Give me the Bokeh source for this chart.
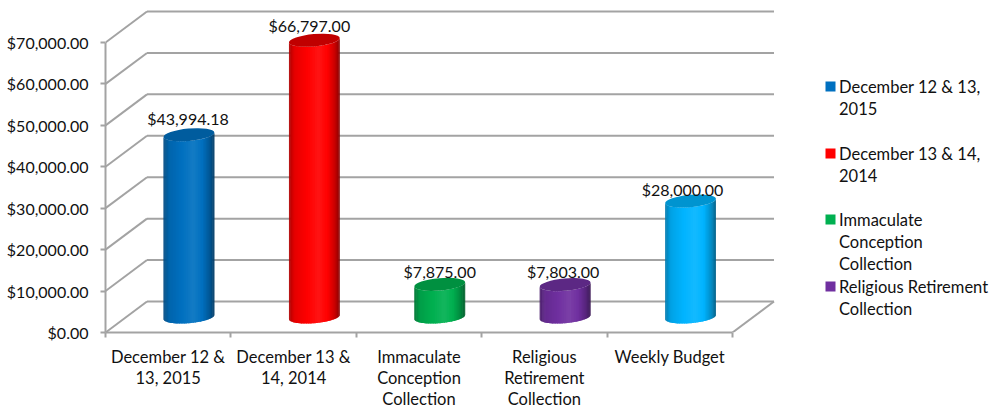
import numpy as np
from bokeh.plotting import figure
from bokeh.models import FixedTicker, Range1d, NumeralTickFormatter
from bokeh.core.properties import value
from bokeh.embed import file_html
from bokeh.resources import INLINE

categories = ["December 12 & 13, 2015", "December 13 & 14, 2014", "Immaculate Conception Collection",
              "Religious Retirement Collection", "Weekly Budget"]
values = [43994.18, 66797.00, 7875.00, 7803.00, 28000.00]
tick_labels = ["December 12 &\n13, 2015", "December 13 &\n14, 2014", "Immaculate\nConception\nCollection",
               "Religious\nRetirement\nCollection", "Weekly Budget"]
legend_lines = [["December 12 & 13,", "2015"], ["December 13 & 14,", "2014"],
                ["Immaculate", "Conception", "Collection"], ["Religious Retirement", "Collection"]]
y_ticks = [0, 10000, 20000, 30000, 40000, 50000, 60000, 70000]
base_colors = ["#0070C0", "#FF0000", "#00B050", "#7030A0", "#00B4FF"]
top_colors = ["#005C9E", "#C00000", "#009040", "#5C2884", "#0094D0"]
legend_colors = ["#0070C0", "#FF0000", "#00B050", "#7030A0"]

FONT = "Lato"
FS = "16px"
FS_TXT = "16.5px"
W, H = 990, 408
LEFT, BOTTOM = 105, 332
PX_X = 125.4          # pixels per category
PX_Y = 290 / 70000    # pixels per dollar
fx = lambda px: (px - LEFT) / PX_X
fy = lambda py: (BOTTOM - py) / PX_Y
dX, dY = 41.5 / PX_X, 31 / PX_Y   # depth of the floor

p = figure(width=W, height=H, frame_width=W - LEFT, frame_height=BOTTOM,
           min_border_left=LEFT, min_border_right=0, min_border_top=0, min_border_bottom=H - BOTTOM,
           x_range=Range1d(0, (W - LEFT) / PX_X), y_range=Range1d(0, BOTTOM / PX_Y),
           output_backend="svg", toolbar_location=None, x_axis_type="linear", y_axis_type="linear")
p.grid.visible = False
p.outline_line_color = None
p.background_fill_color = "white"
GRID = "#A3A3A3"

# walls
n = len(categories)
p.segment([dX] * len(y_ticks), [v + dY for v in y_ticks], [n + dX] * len(y_ticks), [v + dY for v in y_ticks],
          line_color=GRID, line_width=2)
p.segment([0] * len(y_ticks), y_ticks, [dX] * len(y_ticks), [v + dY for v in y_ticks],
          line_color=GRID, line_width=2)
p.segment([n], [0], [n + dX], [dY], line_color=GRID, line_width=2)

# axes
xa = p.xaxis[0]
xa.ticker = FixedTicker(ticks=[i + 0.5 for i in range(n)], minor_ticks=list(range(n + 1)))
xa.major_label_overrides = {i + 0.5: t for i, t in enumerate(tick_labels)}
xa.major_tick_line_color = None
xa.major_tick_out = 0
xa.major_tick_in = 0
xa.minor_tick_out = 5
xa.minor_tick_in = 0
xa.minor_tick_line_color = GRID
xa.minor_tick_line_width = 2
xa.axis_line_color = GRID
xa.axis_line_width = 2
xa.bounds = (0, n)
xa.major_label_standoff = 9
xa.major_label_text_font = FONT
xa.major_label_text_font_size = FS_TXT
xa.major_label_text_color = "#111111"
xa.major_label_text_line_height = 1.07

ya = p.yaxis[0]
ya.ticker = FixedTicker(ticks=y_ticks)
ya.formatter = NumeralTickFormatter(format="$0,0.00")
ya.minor_tick_line_color = None
ya.major_tick_out = 5
ya.major_tick_in = 0
ya.major_tick_line_color = GRID
ya.major_tick_line_width = 2
ya.axis_line_color = GRID
ya.axis_line_width = 2
ya.bounds = (0, 70000)
ya.major_label_standoff = 12
ya.major_label_text_font = FONT
ya.major_label_text_font_size = FS
ya.major_label_text_color = "#111111"

# cylinders
A, B = 25.5, 6.2
PHI = np.radians(5)
STOPS_T = [-1.0, -0.8, -0.3, 0.15, 0.5, 0.8, 1.0]
STOPS_K = [0.68, 0.9, 1.0, 1.08, 1.0, 0.78, 0.52]

def shade(hex_color, k):
    rgb = np.array([int(hex_color[i:i + 2], 16) for i in (1, 3, 5)], float)
    out = rgb * k if k <= 1 else rgb + (255 - rgb) * (k - 1)
    return "#%02x%02x%02x" % tuple(int(np.clip(c, 0, 255)) for c in out)

def rim(theta):
    ex = A * np.cos(theta) * np.cos(PHI) - B * np.sin(theta) * np.sin(PHI)
    ey = A * np.cos(theta) * np.sin(PHI) + B * np.sin(theta) * np.cos(PHI)
    return ex / PX_X, ey / PX_Y

N = 44
thetas = np.linspace(np.pi, 2 * np.pi, N + 1)
xs, ys, cols = [], [], []
for i, v in enumerate(values):
    cx = i + 0.5 + dX / 2
    cy = dY / 2
    for j in range(N):
        t = np.linspace(thetas[j], min(thetas[j + 1] + 0.05, 2 * np.pi), 3)
        ex, ey = rim(t)
        xs.append(list(cx + ex) + list((cx + ex)[::-1]))
        ys.append(list(cy + ey) + list((cy + v + ey)[::-1]))
        tc = np.cos((thetas[j] + thetas[j + 1]) / 2)
        cols.append(shade(base_colors[i], float(np.interp(tc, STOPS_T, STOPS_K))))
p.patches(xs, ys, fill_color=cols, line_color=None)
p.ellipse([i + 0.5 + dX / 2 for i in range(n)], [v + dY / 2 for v in values],
          width=2 * A, height=2 * B, angle=PHI, width_units="screen", height_units="screen",
          fill_color=top_colors, line_color=None)

# data labels
label_dx = [-1, -5, 0, -2, -8]
label_dy = [16, 15, 13, 13, 12]
p.text([i + 0.5 + dX / 2 + label_dx[i] / PX_X for i in range(n)],
       [v + dY / 2 + label_dy[i] / PX_Y for i, v in enumerate(values)],
       text=[f"${v:,.2f}" for v in values], text_align="center", text_baseline="middle",
       text_font=value(FONT), text_font_size=FS, text_color="#111111")

# legend
legend_py = [86, 153, 219, 286]
p.scatter([fx(830)] * 4, [fy(y) for y in legend_py], marker="square", size=10,
          fill_color=legend_colors, line_color=None)
tx, ty, tt = [], [], []
for py, lines in zip(legend_py, legend_lines):
    for k, line in enumerate(lines):
        tx.append(fx(838.5)); ty.append(fy(py + k * 22)); tt.append(line)
p.text(tx, ty, text=tt, text_align="left", text_baseline="middle",
       text_font=value(FONT), text_font_size=FS_TXT, text_color="#111111")

open("out.html", "w").write(file_html(p, INLINE))
